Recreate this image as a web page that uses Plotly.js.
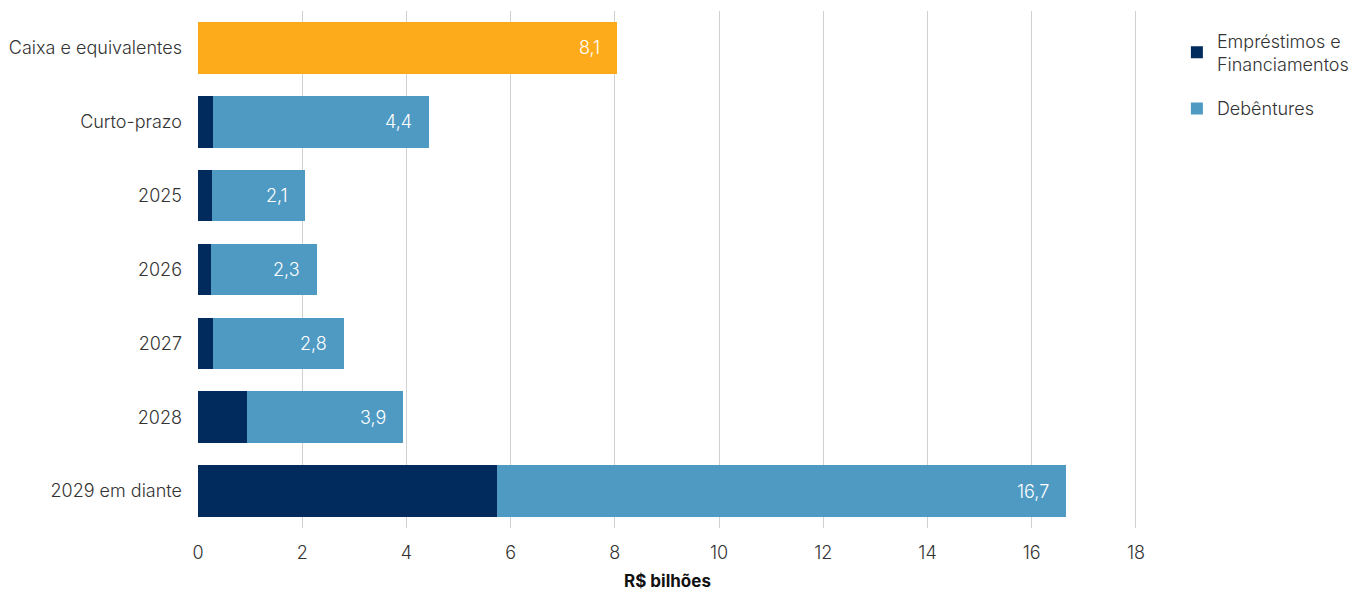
<!DOCTYPE html>
<html><head><meta charset="utf-8">
<script src="https://cdn.plot.ly/plotly-3.0.1.min.js"></script>
<style>html,body{margin:0;padding:0;background:#fff}#chart{width:1359px;height:591px}</style>
</head><body><div id="chart"></div>
<script>
const categories = ["Caixa e equivalentes","Curto-prazo","2025","2026","2027","2028","2029 em diante"];
const caixa = [8.05, null, null, null, null, null, null];
const emprestimos = [null, 0.29, 0.27, 0.25, 0.29, 0.94, 5.74];
const debentures = [null, 4.15, 1.79, 2.04, 2.51, 3.00, 10.91];
const totalLabels = ["8,1","4,4","2,1","2,3","2,8","3,9","16,7"];
const xTicks = [0,2,4,6,8,10,12,14,16,18];

const totals = categories.map((c,i)=> (caixa[i]||0)+(emprestimos[i]||0)+(debentures[i]||0));

const font = "Inter, Roboto, sans-serif";
const traces = [
  {type:'bar', orientation:'h', y:categories, x:caixa, marker:{color:'#FDAB1A'}, showlegend:false, hoverinfo:'skip', name:'Caixa'},
  {type:'bar', orientation:'h', y:categories, x:emprestimos, marker:{color:'#002B5C'}, name:'Empréstimos e<br>Financiamentos', legendgroup:'a'},
  {type:'bar', orientation:'h', y:categories, x:debentures, marker:{color:'#4F9AC3'}, name:'Debêntures', legendgroup:'b'}
];
const annotations = categories.map((c,i)=>({
  x: totals[i], y: i, xref:'x', yref:'y', text: totalLabels[i], showarrow:false,
  xanchor:'right', xshift:-15, font:{family:font, size:18, color:'#ffffff', weight:300}
}));
const layout = {
  width:1359, height:591,
  margin:{l:198, r:222, t:11, b:63, autoexpand:false},
  paper_bgcolor:'#fff', plot_bgcolor:'#fff',
  barmode:'stack', bargap:0.3,
  font:{family:font, size:18, color:'#333'},
  xaxis:{range:[0,18.02], tickvals:xTicks, ticktext:xTicks.map(String), showgrid:true, gridcolor:'#d0d0d0', gridwidth:1,
         zeroline:false, showline:false, ticks:'', ticklabelstandoff:12, tickfont:{size:18, color:'#333', family:font, weight:300},
         automargin:false,
         title:{text:'<b>R$ bilhões</b>', font:{size:17, color:'#111', family:font}, standoff:13}},
  yaxis:{type:'category', categoryorder:'array', categoryarray:categories, range:[categories.length-0.5, -0.5],
         showgrid:false, zeroline:false, showline:false, ticks:'', ticklabelstandoff:15,
         automargin:false, tickfont:{size:18, color:'#333', family:font, weight:300}},
  legend:{xref:'container', yref:'container', x:0.866, y:0.962, xanchor:'left', yanchor:'top', traceorder:'grouped', tracegroupgap:18,
          font:{size:18, color:'#333', family:font, weight:300}, itemwidth:30},
  annotations: annotations,
  showlegend:true
};
Plotly.newPlot('chart', traces, layout, {displayModeBar:false});
</script></body></html>
